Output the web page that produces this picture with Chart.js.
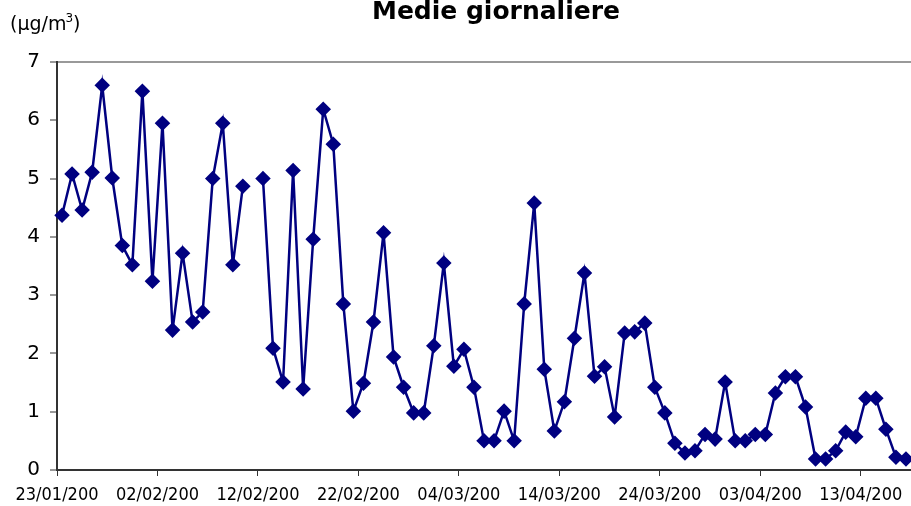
<!DOCTYPE html>
<html>
<head>
<meta charset="utf-8">
<script src="https://cdn.jsdelivr.net/npm/chart.js@4"></script>
<style>
  html, body { margin: 0; padding: 0; background: #fff; }
  #wrap { width: 911px; height: 506px; }
</style>
</head>
<body>
<div id="wrap"><canvas id="chart-medie" width="911" height="506"></canvas></div>
<script>
"use strict"

// daily means, one per day starting 23/01 (null = missing day)
var valori = [
    4.37, 5.08, 4.46, 5.11, 6.60, 5.01, 3.85, 3.52, 6.50, 3.24,
    5.95, 2.40, 3.72, 2.54, 2.71, 5.00, 5.95, 3.52, 4.87, null,
    5.00, 2.09, 1.51, 5.14, 1.39, 3.96, 6.19, 5.59, 2.85, 1.01,
    1.49, 2.54, 4.07, 1.94, 1.42, 0.98, 0.98, 2.13, 3.55, 1.78,
    2.07, 1.42, 0.50, 0.50, 1.01, 0.50, 2.85, 4.58, 1.73, 0.67,
    1.17, 2.26, 3.38, 1.61, 1.77, 0.91, 2.35, 2.37, 2.52, 1.42,
    0.98, 0.46, 0.29, 0.33, 0.61, 0.53, 1.51, 0.50, 0.50, 0.61,
    0.61, 1.32, 1.60, 1.60, 1.08, 0.19, 0.19, 0.33, 0.65, 0.57,
    1.23, 1.23, 0.70, 0.22, 0.19
]
var etichetteX = [
    '23/01/200', '02/02/200', '12/02/200', '22/02/200', '04/03/200',
    '14/03/200', '24/03/200', '03/04/200', '13/04/200'
]
var tickY = [0, 1, 2, 3, 4, 5, 6, 7]

var punti = valori.map(function (v, i) { return { x: i + 0.5, y: v } })

var testi = {
    id: 'testi',
    afterDraw: function (chart) {
        var c = chart.ctx
        c.save()
        c.fillStyle = '#000'
        c.textBaseline = 'middle'
        c.textAlign = 'center'
        c.font = 'bold 25px "DejaVu Sans"'
        c.fillText('Medie giornaliere', 496, 12)
        // unit label with superscript
        c.textAlign = 'left'
        c.textBaseline = 'alphabetic'
        c.font = '19px "DejaVu Sans"'
        var x = 10, base = 30
        var a = '(\u00b5g/m'
        c.fillText(a, x, base)
        x += c.measureText(a).width
        c.font = '12px "DejaVu Sans"'
        c.fillText('3', x - 1, base - 8)
        x += c.measureText('3').width - 1
        c.font = '19px "DejaVu Sans"'
        c.fillText(')', x, base)
        c.restore()
    }
}

var ctx = document.getElementById('chart-medie').getContext('2d')
var chartMedie = new Chart(ctx, {
    type: 'line',
    data: {
        datasets: [{
            label: 'Medie giornaliere',
            data: punti,
            borderColor: '#000080',
            backgroundColor: '#000080',
            borderWidth: 2.5,
            pointStyle: 'rectRot',
            pointRadius: 6,
            pointHoverRadius: 6,
            spanGaps: false,
            tension: 0,
            clip: false
        }]
    },
    options: {
        responsive: false,
        animation: false,
        layout: { autoPadding: false, padding: { top: 62, right: 0, left: 0, bottom: 0 } },
        plugins: {
            legend: { display: false },
            tooltip: { enabled: false }
        },
        scales: {
            x: {
                type: 'linear',
                min: 0,
                max: valori.length,
                afterBuildTicks: function (scale) {
                    scale.ticks = etichetteX.map(function (_, i) { return { value: i * 10 } })
                },
                afterFit: function (scale) {
                    scale.height = 36
                    scale.paddingRight = 0
                    scale.paddingLeft = 0
                },
                ticks: {
                    autoSkip: false,
                    maxRotation: 0,
                    padding: 9,
                    color: '#000',
                    font: { family: '"DejaVu Sans Condensed", "DejaVu Sans"', size: 18 },
                    callback: function (v) { return etichetteX[Math.round(v / 10)] }
                },
                grid: {
                    drawOnChartArea: false,
                    tickLength: 6,
                    tickColor: '#333',
                    tickWidth: 1
                },
                border: { color: '#333', width: 2 }
            },
            y: {
                min: 0,
                max: 7,
                afterBuildTicks: function (scale) {
                    scale.ticks = tickY.map(function (v) { return { value: v } })
                },
                afterFit: function (scale) { scale.width = 57 },
                ticks: {
                    padding: 10,
                    color: '#000',
                    font: { family: '"DejaVu Sans"', size: 20 }
                },
                grid: {
                    color: function (c) { return c.tick && c.tick.value === 7 ? '#999' : 'rgba(0,0,0,0)' },
                    lineWidth: 2,
                    tickLength: 7,
                    tickColor: '#333',
                    tickWidth: 1
                },
                border: { color: '#333', width: 2 }
            }
        }
    },
    plugins: [testi]
})
</script>
</body>
</html>
